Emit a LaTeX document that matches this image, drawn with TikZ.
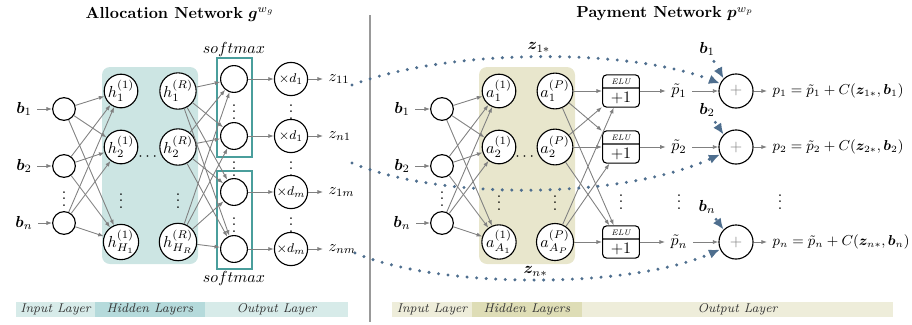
\documentclass[tikz,border=0pt]{standalone}
\usepackage{amsmath}
\usepackage{bm}
\usepackage{tikz}
\usetikzlibrary{arrows.meta,positioning,shapes.multipart}
\definecolor{allocbg}{HTML}{CCE5E3}
\definecolor{allocbar}{HTML}{D7EBE9}
\definecolor{allocbardark}{HTML}{B5DADB}
\definecolor{paybg}{HTML}{E8E6CC}
\definecolor{paybar}{HTML}{EEEDDA}
\definecolor{paybardark}{HTML}{DEDDB6}
\definecolor{smaxline}{HTML}{4A9E9C}
\definecolor{zdots}{HTML}{4E6E8E}
\definecolor{wiregray}{HTML}{808080}

\begin{document}
\begin{tikzpicture}[x=0.022cm,y=-0.022cm,>={Latex[length=3.5pt,width=2.6pt]},
    neuron/.style={circle,draw,line width=0.7pt,inner sep=0pt,fill=white},
    inneuron/.style={neuron,minimum size=0.5cm},
    hidneuron/.style={neuron,minimum size=0.74cm},
    smneuron/.style={neuron,minimum size=0.59cm},
    mulneuron/.style={neuron,minimum size=0.73cm,font=\footnotesize},
    plusneuron/.style={neuron,minimum size=0.75cm,text=gray},
    elubox/.style={rectangle split,rectangle split parts=2,draw,line width=0.7pt,
                   rounded corners=2.5pt,minimum width=0.81cm,inner sep=2pt,fill=white},
    wire/.style={draw=wiregray,line width=0.55pt,->},
    zline/.style={draw=zdots,line width=2.1pt,line cap=round,dash pattern=on 0pt off 6pt,
                  -{Latex[length=7pt,width=6pt]}},
    barlabel/.style={inner sep=0pt,font=\footnotesize\itshape,text=black!80}]
    \useasboundingbox (0,0) rectangle (912,324);

    % backgrounds
    \fill[allocbg,rounded corners=5pt] (102,67) rectangle (198,264);
    \fill[paybg,rounded corners=5pt] (479,67) rectangle (575,264);
    \draw[smaxline,line width=0.7pt] (217,58) rectangle (252,157);
    \draw[smaxline,line width=0.7pt] (217,171) rectangle (252,269);
    \draw[black!40,line width=0.8pt] (370,15) -- (370,322);

    \node (gtitle) at (180,14) {\textbf{Allocation Network} $\bm{g}^{w_g}$};
    \node (ptitle) at (665,14) {\textbf{Payment Network} $\bm{p}^{w_p}$};

    % allocation network
    \foreach \n/\y in {1/109,2/166,n/223}
    {
        \node[inneuron] (gi\n) at (64,\y) {};
        \node (gb\n) at (24,\y) {$\bm{b}_{\n}$};
        \draw[wire] (gb\n) -- (gi\n);
    }
    \node (gidots) at (64,194) {$\vdots$};
    \foreach \n/\y/\sub in {1/91/1,2/147/2,H/242/H_1}
        \node[hidneuron] (h1\n) at (121,\y) {$h^{(1)}_{\sub}$};
    \foreach \n/\y/\sub in {1/91/1,2/147/2,H/242/H_R}
        \node[hidneuron] (hR\n) at (178,\y) {$h^{(R)}_{\sub}$};
    \node (hdots1) at (121,196) {$\vdots$};
    \node (hdotsR) at (178,196) {$\vdots$};
    \node (hcdots) at (149,157) {$\cdots$};
    \foreach \k/\y/\d/\z in {1/79/1/11,2/136/1/n1,3/192/m/1m,4/249/m/nm}
    {
        \node[smneuron] (s\k) at (234,\y) {};
        \node[mulneuron] (m\k) at (291,\y) {$\times d_{\d}$};
        \node[anchor=west] (z\k) at (323,\y) {$z_{\z}$};
        \draw[wire] (s\k) -- (m\k);
        \draw[wire] (m\k) -- (z\k);
    }
    \foreach \y [count=\k] in {107,164,220}
    {
        \node (sdots\k) at (234,\y) {$\vdots$};
        \node (mdots\k) at (291,\y) {$\vdots$};
    }
    \node (smaxtop) at (234,50) {$softmax$};
    \node (smaxbot) at (234,278) {$softmax$};
    \foreach \i in {1,2,n}
        \foreach \j in {1,2,H}
            \draw[wire] (gi\i) -- (h1\j);
    \foreach \j in {1,2,H}
        \foreach \k in {1,2,3,4}
            \draw[wire] (hR\j) -- (s\k);

    % payment network
    \foreach \n/\y in {1/109,2/166,n/223}
    {
        \node[inneuron] (pi\n) at (442,\y) {};
        \node (pb\n) at (402,\y) {$\bm{b}_{\n}$};
        \draw[wire] (pb\n) -- (pi\n);
    }
    \node (pidots) at (442,194) {$\vdots$};
    \foreach \n/\y/\sub in {1/91/1,2/147/2,A/242/A_1}
        \node[hidneuron] (a1\n) at (499,\y) {$a^{(1)}_{\sub}$};
    \foreach \n/\y/\sub in {1/91/1,2/147/2,A/242/A_P}
        \node[hidneuron] (aP\n) at (555,\y) {$a^{(P)}_{\sub}$};
    \node (adots1) at (499,198) {$\vdots$};
    \node (adotsP) at (555,198) {$\vdots$};
    \node (acdots) at (526,157) {$\cdots$};
    \foreach \n/\y/\by in {1/91/49,2/147/110,n/242/207}
    {
        \node[elubox] (elu\n) at (621,\y) {\tiny\itshape ELU\nodepart{two}$+1$};
        \node (pt\n) at (679,\y) {$\tilde{p}_{\n}$};
        \node[plusneuron] (plus\n) at (736,\y) {$+$};
        \node[anchor=west,font=\small] (res\n) at (767,\y)
            {$p_{\n} = \tilde{p}_{\n} + C(\bm{z}_{\n*},\bm{b}_{\n})$};
        \node (bp\n) at (707,\by) {$\bm{b}_{\n}$};
        \draw[wire] (elu\n) -- (pt\n);
        \draw[wire] (pt\n) -- (plus\n);
        \draw[wire] (plus\n) -- (res\n);
        \draw[zline] (bp\n) -- (plus\n.135);
    }
    \node (eludots) at (621,197) {$\vdots$};
    \node (ptdots) at (679,197) {$\vdots$};
    \node (resdots) at (780,197) {$\vdots$};
    \foreach \i in {1,2,n}
        \foreach \j in {1,2,A}
            \draw[wire] (pi\i) -- (a1\j);
    \foreach \j in {1,2,A}
        \foreach \k in {1,2,n}
            \draw[wire] (aP\j) -- (elu\k);

    % dotted links z -> C
    \coordinate (zs1) at (352,85);
    \coordinate (zs2) at (352,163);
    \coordinate (zs3) at (355,253);
    \draw[zline] (zs1) .. controls (450,48) and (630,48) .. (plus1.155)
        node[pos=0.5,above,inner sep=2pt,text=black] (zlab1) {$\bm{z}_{1*}$};
    \draw[zline] (zs2) .. controls (440,200) and (620,200) .. (plus2.205);
    \draw[zline] (zs3) .. controls (440,289) and (630,289) .. (plusn.205)
        node[pos=0.5,above,inner sep=1pt,text=black] (zlabn) {$\bm{z}_{n*}$};

    % layer bars
    \foreach \xa/\xb/\col/\lab/\nm in {16/95/allocbar/Input Layer/gbar1,
        95/205/allocbardark/Hidden Layers/gbar2,205/348/allocbar/Output Layer/gbar3,
        392/472/paybar/Input Layer/pbar1,472/582/paybardark/Hidden Layers/pbar2,
        582/893/paybar/Output Layer/pbar3}
    {
        \fill[\col] (\xa,302) rectangle (\xb,317) node[midway,barlabel] (\nm) {\lab};
    }
\end{tikzpicture}
\end{document}
